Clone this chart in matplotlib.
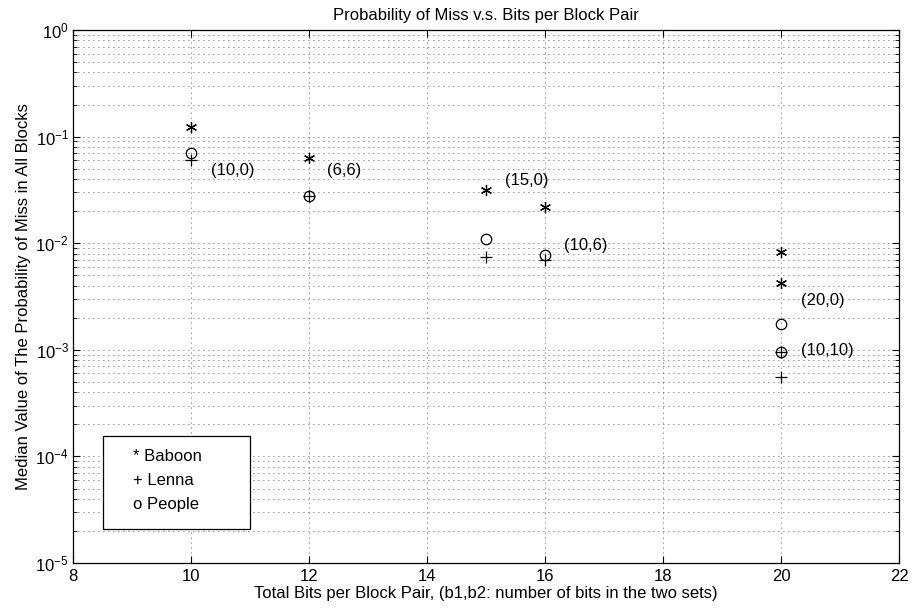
import matplotlib
matplotlib.use("Agg")
import matplotlib.pyplot as plt
from matplotlib.patches import Rectangle
from matplotlib.ticker import LogLocator, FixedLocator, NullFormatter

plt.rcParams['font.family'] = ['Liberation Sans', 'DejaVu Sans']
plt.rcParams['mathtext.fontset'] = 'custom'
plt.rcParams['mathtext.rm'] = 'Liberation Sans'
plt.rcParams['mathtext.it'] = 'Liberation Sans:italic'

# ---- data ----
bits = [10, 12, 15, 16, 20, 20]
baboon = [0.124, 0.063, 0.0313, 0.0217, 0.0082, 0.0042]
lenna = [0.060, 0.0275, 0.0074, 0.0069, 0.00095, 0.00056]
people = [0.0705, 0.0275, 0.011, 0.0078, 0.00173, 0.00095]

pair_labels = ["(10,0)", "(6,6)", "(15,0)", "(10,6)", "(20,0)", "(10,10)"]
label_x = [10.33, 12.31, 15.32, 16.32, 20.33, 20.33]
label_y = [0.0478, 0.0478, 0.0386, 0.0095, 0.0029, 0.00099]

xticks = [8, 10, 12, 14, 16, 18, 20, 22]
legend_lines = ["* Baboon", "+ Lenna", "o People"]

fig = plt.figure(figsize=(9.13, 6.12), dpi=100)
ax = fig.add_axes([0.080, 0.0800, 0.9047, 0.8710])

ax.set_yscale('log')
ax.set_xlim(8, 22)
ax.set_ylim(1e-5, 1)
ax.xaxis.set_major_locator(FixedLocator(xticks))
ax.yaxis.set_major_locator(LogLocator(base=10, numticks=10))
ax.yaxis.set_minor_locator(LogLocator(base=10, subs=range(2, 10), numticks=100))
ax.yaxis.set_minor_formatter(NullFormatter())

grid_style = dict(color='#222222', linestyle=(0, (1, 5)), linewidth=0.6)
ax.grid(True, which='major', axis='both', **grid_style)
ax.grid(True, which='minor', axis='y', **grid_style)
ax.set_axisbelow(True)

ax.tick_params(which='both', direction='in', top=True, right=True, labelsize=12)
ax.tick_params(axis='x', which='major', pad=4)
ax.tick_params(axis='y', which='major', pad=3)
ax.tick_params(which='major', length=5, width=0.8)
ax.tick_params(which='minor', length=3, width=0.6)
for s in ax.spines.values():
    s.set_linewidth(0.9)

ax.plot(bits, baboon, linestyle='none', marker=(6, 2, 0), markersize=8,
        color='black', markeredgewidth=0.9)
ax.plot(bits, lenna, linestyle='none', marker='+', markersize=8,
        color='black', markeredgewidth=0.9)
ax.plot(bits, people, linestyle='none', marker='o', markersize=7.5,
        markerfacecolor='none', markeredgecolor='black', markeredgewidth=0.9)

for t, x, y in zip(pair_labels, label_x, label_y):
    ax.text(x, y, t, ha='left', va='center', fontsize=12)

rect = Rectangle((0.0363, 0.0637), 0.178, 0.174, transform=ax.transAxes,
                 facecolor='white', edgecolor='black', linewidth=0.9, zorder=3)
ax.add_patch(rect)
for t, yy in zip(legend_lines, [0.200, 0.155, 0.109]):
    ax.text(0.0726, yy, t, transform=ax.transAxes, ha='left', va='center',
            fontsize=12, zorder=4)

ax.set_title("Probability of Miss v.s. Bits per Block Pair", fontsize=12, pad=7)
ax.set_xlabel("Total Bits per Block Pair, (b1,b2: number of bits in the two sets)",
              fontsize=12, labelpad=2)
ax.set_ylabel("Median Value of The Probability of Miss in All Blocks",
              fontsize=12, labelpad=3)

fig.savefig("out.png", dpi=100)
